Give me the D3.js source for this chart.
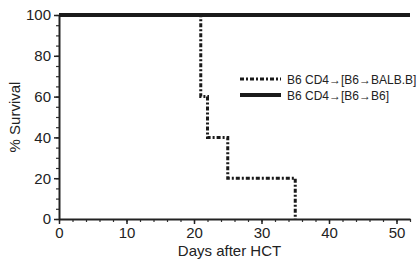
<!DOCTYPE html>
<html>
<head>
<meta charset="utf-8">
<script src="https://cdn.jsdelivr.net/npm/d3@7"></script>
<style>
  body { margin: 0; background: #fff; }
  text { font-family: "Liberation Sans", Arial, sans-serif; fill: #222; }
</style>
</head>
<body>
<div id="chart"></div>
<script>
// survival steps (day, % survival)
let balbDays = [0, 21, 21, 22, 22, 25, 25, 35, 35];
let balbSurv = [100, 100, 60, 60, 40, 40, 20, 20, 0];
let b6Days = [0, 52];
let b6Surv = [100, 100];
let seriesNames = ["B6 CD4\u2192[B6\u2192BALB.B]", "B6 CD4\u2192[B6\u2192B6]"];
let xTicks = [0, 10, 20, 30, 40, 50];
let yTicks = [0, 20, 40, 60, 80, 100];

var margin = {top: 15, right: 10, bottom: 45, left: 59},
    width = 420 - margin.left - margin.right,
    height = 264 - margin.top - margin.bottom;

var svg = d3.select("#chart")
    .append("svg")
    .attr("width", 420)
    .attr("height", 264)
    .append("g")
    .attr("transform", `translate(${margin.left},${margin.top})`);

var x = d3.scaleLinear().domain([0, 52]).range([0, width]);
var y = d3.scaleLinear().domain([0, 100]).range([height, 0]);

// minor ticks first, then the labelled ones
svg.append("g")
    .attr("transform", `translate(0, ${height})`)
    .call(d3.axisBottom(x).tickValues(d3.range(0, 53, 2)).tickSize(3).tickFormat(""))
    .call(g => g.select(".domain").remove())
    .selectAll("line").attr("stroke", "#333").attr("stroke-width", 1.2);

svg.append("g")
    .call(d3.axisLeft(y).tickValues(d3.range(0, 101, 5)).tickSize(3).tickFormat(""))
    .call(g => g.select(".domain").remove())
    .selectAll("line").attr("stroke", "#333").attr("stroke-width", 1.2);

var xAxis = svg.append("g")
    .attr("transform", `translate(0, ${height})`)
    .call(d3.axisBottom(x).tickValues(xTicks).tickSize(5).tickSizeOuter(0).tickPadding(3))
    .style("font-size", "15px");
xAxis.select(".domain").attr("stroke", "#222").attr("stroke-width", 2);
xAxis.selectAll("line").attr("stroke", "#222").attr("stroke-width", 1.5);

var yAxis = svg.append("g")
    .call(d3.axisLeft(y).tickValues(yTicks).tickSize(5).tickSizeOuter(0).tickPadding(3))
    .style("font-size", "15px");
yAxis.select(".domain").attr("stroke", "#222").attr("stroke-width", 2);
yAxis.selectAll("line").attr("stroke", "#222").attr("stroke-width", 1.5);

svg.selectAll(".tick text").attr("fill", "#222").style("font-family", "Liberation Sans, Arial, sans-serif");

var line = d3.line().x(d => x(d[0])).y(d => y(d[1]));

// solid series
svg.append("path")
    .datum(d3.zip(b6Days, b6Surv))
    .attr("d", line)
    .attr("fill", "none")
    .attr("stroke", "#1a1a1a")
    .attr("stroke-width", 4);

// dash-dot series
svg.append("path")
    .datum(d3.zip(balbDays, balbSurv))
    .attr("d", line)
    .attr("fill", "none")
    .attr("stroke", "#1a1a1a")
    .attr("stroke-width", 3)
    .attr("stroke-dasharray", "4,2,2,2");

// legend
var legend = svg.append("g").attr("transform", "translate(181, 64)");
var styles = [{w: 3, dash: "4,2,2,2"}, {w: 4, dash: null}];
seriesNames.forEach(function (name, i) {
    var row = legend.append("g").attr("transform", `translate(0, ${i * 16})`);
    row.append("line")
        .attr("x1", 0).attr("x2", 41)
        .attr("stroke", "#1a1a1a")
        .attr("stroke-width", styles[i].w)
        .attr("stroke-dasharray", styles[i].dash);
    row.append("text")
        .attr("x", 47).attr("y", 4.5)
        .style("font-size", "12px")
        .text(name);
});

// axis titles
svg.append("text")
    .attr("x", 170.5).attr("y", height + 37)
    .attr("text-anchor", "middle")
    .style("font-size", "15px")
    .text("Days after HCT");

svg.append("text")
    .attr("transform", `translate(${-39}, ${height * 0.5}) rotate(-90)`)
    .attr("text-anchor", "middle")
    .style("font-size", "15px")
    .text("% Survival");
</script>
</body>
</html>
